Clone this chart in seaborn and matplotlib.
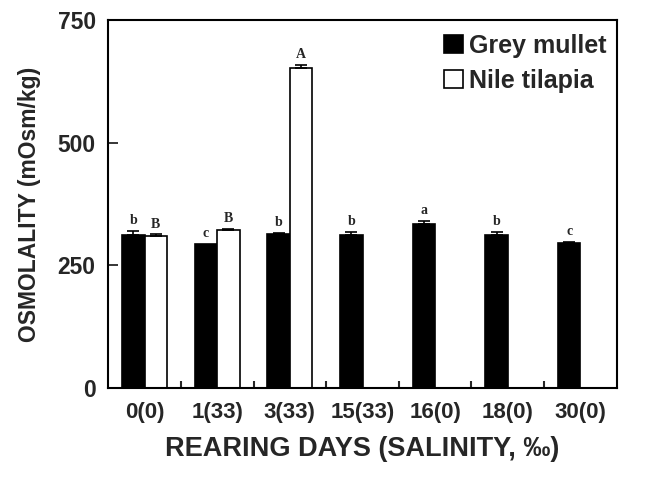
import numpy as np
import pandas as pd
import matplotlib
matplotlib.use("Agg")
import matplotlib.pyplot as plt
import seaborn as sns
from matplotlib.patches import Patch

# ---- data ----
days = ["0(0)", "1(33)", "3(33)", "15(33)", "16(0)", "18(0)", "30(0)"]
mullet = [312, 294, 313, 312, 335, 312, 295]
mullet_err = [8, 0, 4, 6, 5, 7, 2]
mullet_sig = ["b", "c", "b", "b", "a", "b", "c"]
tilapia = [310, 322, 652, np.nan, np.nan, np.nan, np.nan]
tilapia_err = [3, 2, 6, np.nan, np.nan, np.nan, np.nan]
tilapia_sig = ["B", "B", "A", "", "", "", ""]
species = ["Grey mullet", "Nile tilapia"]
yticks = [0, 250, 500, 750]

sns.set_style("white")
plt.rcParams["font.family"] = ["Liberation Sans", "DejaVu Sans"]

df = pd.DataFrame({
    "day": days * 2,
    "species": [species[0]] * len(days) + [species[1]] * len(days),
    "value": mullet + tilapia,
})

fig = plt.figure(figsize=(6.52, 4.87), dpi=100)
ax = fig.add_axes([0.166, 0.203, 0.780, 0.756])

sns.barplot(data=df, x="day", y="value", hue="species", hue_order=species,
            order=days, palette={species[0]: "black", species[1]: "white"},
            edgecolor="black", linewidth=1.2, width=0.62, errorbar=None,
            ax=ax, legend=False)

n = len(days)
sets = [(mullet, mullet_err, mullet_sig), (tilapia, tilapia_err, tilapia_sig)]
for s, (vals, errs, sigs) in enumerate(sets):
    cont = ax.containers[s]
    for i, rect in enumerate(cont.patches):
        v = vals[i]
        if v != v:
            continue
        xc = rect.get_x() + rect.get_width() / 2
        e = errs[i]
        if e and e == e:
            ax.errorbar(xc, v, yerr=[[0], [e]], fmt="none", ecolor="black",
                        elinewidth=1.2, capsize=4, capthick=1.2)
        top = v + (e if e == e else 0)
        ax.text(xc, top + 8, sigs[i], ha="center", va="bottom",
                fontsize=10, fontweight="bold", family="Liberation Serif")

ax.set_ylim(0, 750)
ax.set_xlim(-0.5, n - 0.5)
ax.set_yticks(yticks)
ax.set_yticklabels([str(t) for t in yticks], fontsize=16.5, fontweight="bold")
ax.set_xticks(range(n))
ax.set_xticklabels(days, fontsize=16, fontweight="bold")
ax.tick_params(axis="x", which="major", length=0, pad=10)
ax.tick_params(axis="y", which="major", left=True, direction="in",
               length=7, width=1.3, pad=9)
ax.set_xticks(np.arange(0.5, n - 0.5, 1), minor=True)
ax.tick_params(axis="x", which="minor", bottom=True, direction="in",
               length=5, width=1.5)

ax.set_xlabel("REARING DAYS (SALINITY, ‰)", fontsize=19.5, fontweight="bold", labelpad=9)
ax.set_ylabel("OSMOLALITY (mOsm/kg)", fontsize=16.5, fontweight="bold", labelpad=12)

for sp in ax.spines.values():
    sp.set_visible(True)
    sp.set_color("black")
    sp.set_linewidth(1.5)

handles = [Patch(facecolor="black", edgecolor="black", linewidth=1.2),
           Patch(facecolor="white", edgecolor="black", linewidth=1.2)]
ax.legend(handles, species, loc="upper right", frameon=False,
          prop={"size": 18, "weight": "bold"}, handlelength=0.75,
          handleheight=0.75, handletextpad=0.25, labelspacing=0.45,
          borderaxespad=0.0, bbox_to_anchor=(1.0, 0.99))

fig.savefig("out.png", dpi=100)
